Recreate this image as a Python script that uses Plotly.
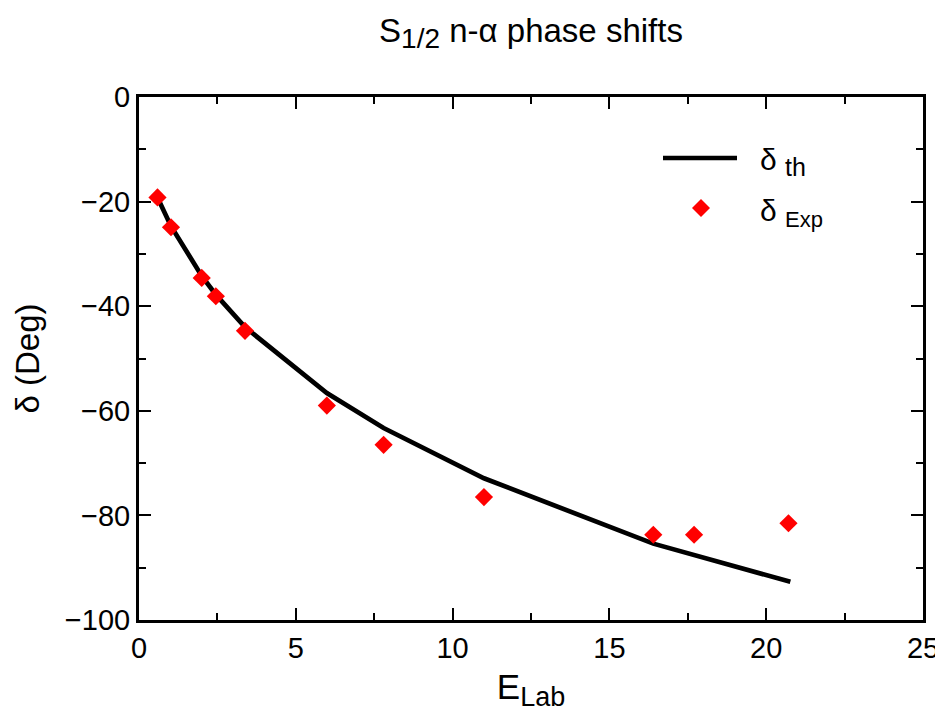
import plotly.graph_objects as go

# Theoretical phase shifts (line)
e_th = [0.59, 1.02, 2.0, 2.45, 3.38, 5.99, 7.80, 11.0, 16.4, 17.7, 20.77]
d_th = [-19.2, -24.7, -34.2, -37.8, -44.0, -56.6, -63.3, -72.9, -85.4, -87.6, -92.7]

# Experimental phase shifts (diamonds)
e_exp = [0.59, 1.02, 2.0, 2.45, 3.38, 5.99, 7.80, 11.0, 16.4, 17.7, 20.71]
d_exp = [-19.2, -24.9, -34.6, -38.1, -44.7, -59.0, -66.5, -76.5, -83.7, -83.7, -81.5]

x_ticks = [0, 5, 10, 15, 20, 25]
y_ticks = [0, -20, -40, -60, -80, -100]

FONT = "Liberation Sans, Arial, Helvetica, sans-serif"

# page body has an 8px margin: compensate in figure size / margins
W, H = 935, 713
ML, MR, MT, MB = 131, 20, 89, 101
PW, PH = W - ML - MR, H - MT - MB


def px(xp):  # page x -> paper
    return (xp - 8 - ML) / PW


def py(yp):  # page y -> paper
    return 1 - (yp - 8 - MT) / PH


fig = go.Figure()
fig.add_trace(go.Scatter(x=e_th, y=d_th, mode="lines",
                         line=dict(color="black", width=4.7),
                         name="δ th", showlegend=False))
fig.add_trace(go.Scatter(x=e_exp, y=d_exp, mode="markers",
                         marker=dict(symbol="diamond", size=14, color="red",
                                     line=dict(width=0)),
                         name="δ Exp", showlegend=False))

axis_common = dict(
    showgrid=False, zeroline=False, showline=True, linecolor="black",
    linewidth=3, mirror="allticks", ticks="inside", ticklen=12,
    tickwidth=2, tickcolor="black", automargin=False,
    tickfont=dict(family=FONT, size=29, color="black"),
)

fig.update_xaxes(range=[0, 25], tickvals=x_ticks,
                 minor=dict(dtick=2.5, tick0=0, ticks="inside", ticklen=7,
                            tickwidth=2, tickcolor="black"),
                 title=dict(text="E<sub><span style='font-size:27px'>Lab</span></sub>",
                            font=dict(family=FONT, size=35, color="black"),
                            standoff=12),
                 **axis_common)
fig.update_yaxes(range=[-100, 0], tickvals=y_ticks,
                 minor=dict(dtick=10, tick0=0, ticks="inside", ticklen=7,
                            tickwidth=2, tickcolor="black"),
                 title=dict(text="δ (Deg)",
                            font=dict(family=FONT, size=33, color="black"),
                            standoff=16),
                 **axis_common)

# Manual legend (paper coords)
shapes = [
    dict(type="line", xref="paper", yref="paper",
         x0=px(663), x1=px(737), y0=py(158), y1=py(158),
         line=dict(color="black", width=4.7)),
    dict(type="path", xref="paper", yref="paper",
         path="M {a},{b} L {c},{d} L {a},{e} L {f},{d} Z".format(
             a=px(701), b=py(199), c=px(710), d=py(208),
             e=py(217), f=px(692)),
         fillcolor="red", line=dict(width=0)),
]
annotations = [
    dict(xref="paper", yref="paper", x=px(758), y=py(162),
         xanchor="left", yanchor="middle", showarrow=False,
         text="δ <sub><span style='font-size:25px'>th</span></sub>",
         font=dict(family=FONT, size=30, color="black")),
    dict(xref="paper", yref="paper", x=px(758), y=py(213),
         xanchor="left", yanchor="middle", showarrow=False,
         text="δ <sub><span style='font-size:22px'>Exp</span></sub>",
         font=dict(family=FONT, size=30, color="black")),
]

fig.update_layout(
    template="none",
    width=W, height=H,
    margin=dict(l=ML, r=MR, t=MT, b=MB),
    paper_bgcolor="white", plot_bgcolor="white",
    title=dict(text="S<sub><span style='font-size:28px'>1/2</span></sub> n-α phase shifts",
               x=(ML + PW / 2) / W,
               xanchor="center", y=1 - 22 / H, yanchor="middle",
               font=dict(family=FONT, size=33, color="black")),
    shapes=shapes, annotations=annotations,
    showlegend=False,
)

fig.write_html("out.html")
